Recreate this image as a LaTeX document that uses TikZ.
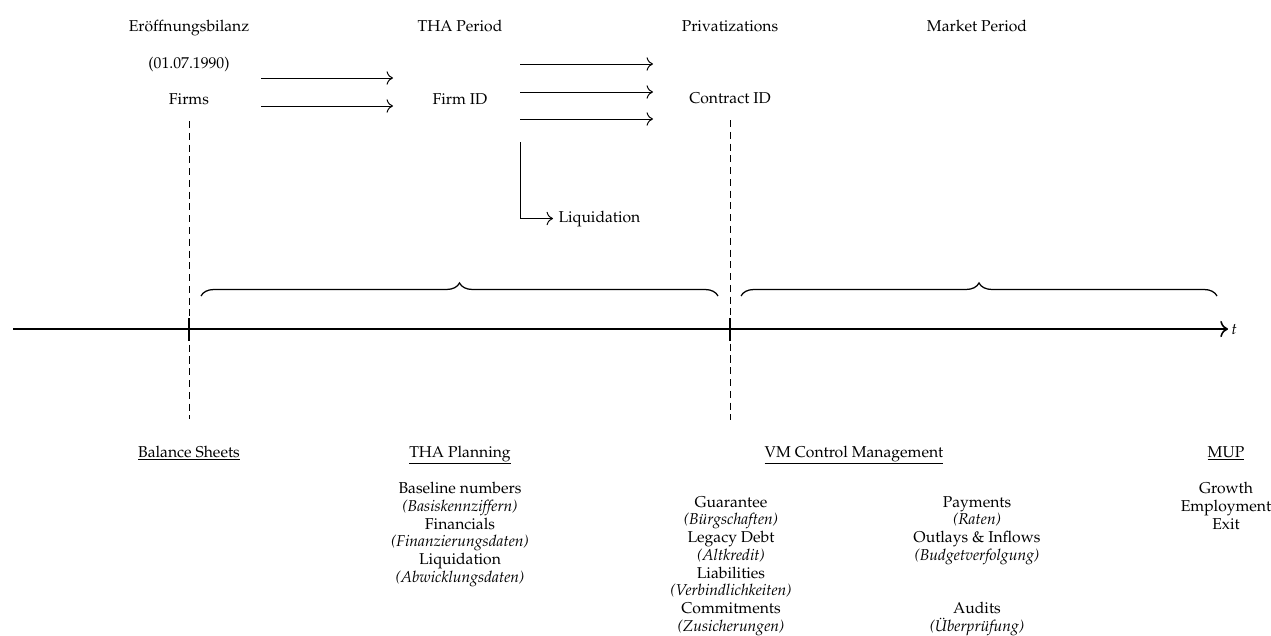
\documentclass[tikz,border=0pt]{standalone}
\usepackage[T1]{fontenc}
\usepackage{mathpazo}
\usetikzlibrary{decorations.pathreplacing,arrows.meta}
\begin{document}
\begin{tikzpicture}[x=0.637pt,y=-0.637pt,
  lbl/.style={inner sep=0pt,anchor=base},
  hdr/.style={inner sep=0pt,anchor=base},
  list/.style={inner sep=0pt,anchor=north,align=center,font=\fontsize{10}{11.3}\selectfont},
  flow/.style={semithick,-{Computer Modern Rightarrow[scale=1.4]}},
  guide/.style={dash pattern=on 4.5pt off 3pt},
  axis/.style={line width=1pt,-{Computer Modern Rightarrow[scale=1.3]}},
  tickmark/.style={line width=1.3pt},
  brc/.style={thick,decorate,decoration={brace,amplitude=8.3pt}}]
\useasboundingbox (0,0) rectangle (1271,635);

% top labels
\node[lbl] (eb) at (189,31) {Er\"offnungsbilanz};
\node[lbl] (date) at (189,68) {(01.07.1990)};
\node[lbl] (firms) at (189,104) {Firms};
\node[lbl] (tha) at (460,31) {THA Period};
\node[lbl] (firmid) at (460,104) {Firm ID};
\node[lbl] (priv) at (730,31) {Privatizations};
\node[lbl] (contract) at (730,103) {Contract ID};
\node[lbl] (market) at (977,31) {Market Period};
\node[anchor=base west] (liq) at (553,222) {Liquidation};

% flow arrows
\coordinate (a1s) at (261,78);  \coordinate (a1e) at (393,78);
\coordinate (a2s) at (261,106); \coordinate (a2e) at (393,106);
\draw[flow] (a1s) -- (a1e);
\draw[flow] (a2s) -- (a2e);
\coordinate (b1s) at (520,64);  \coordinate (b1e) at (653,64);
\coordinate (b2s) at (520,92);  \coordinate (b2e) at (653,92);
\coordinate (b3s) at (520,119); \coordinate (b3e) at (653,119);
\draw[flow] (b1s) -- (b1e);
\draw[flow] (b2s) -- (b2e);
\draw[flow] (b3s) -- (b3e);
\coordinate (ls) at (520,142);
\draw[flow] (ls) |- (liq.west);

% guides
\coordinate (g1t) at (189,121); \coordinate (g1b) at (189,419);
\coordinate (g2t) at (730,120); \coordinate (g2b) at (730,420);
\draw[guide] (g1t) -- (g1b);
\draw[guide] (g2t) -- (g2b);

% axis
\coordinate (ax0) at (13,329);
\coordinate (ax1) at (1228,329);
\draw[axis] (ax0) -- (ax1);
\node[anchor=west,inner sep=2pt] (tlab) at (ax1) {$t$};
\coordinate (k1t) at (189,318); \coordinate (k1b) at (189,341);
\coordinate (k2t) at (730,318); \coordinate (k2b) at (730,341);
\draw[tickmark] (k1t) -- (k1b);
\draw[tickmark] (k2t) -- (k2b);

% braces
\coordinate (br1s) at (201,296); \coordinate (br1e) at (718,296);
\coordinate (br2s) at (741,296); \coordinate (br2e) at (1217,296);
\draw[brc] (br1s) -- (br1e);
\draw[brc] (br2s) -- (br2e);

% bottom headers
\node[hdr] (bs) at (189,457) {\underline{Balance Sheets}};
\node[hdr] (thap) at (460,457) {\underline{THA Planning}};
\node[hdr] (vm) at (854,457) {\underline{VM Control Management}};
\node[hdr] (mup) at (1226,457) {\underline{MUP}};

% lists
\node[list] (thalist) at (460,482) {Baseline numbers\\ \textit{(Basiskennziffern)}\\ Financials\\ \textit{(Finanzierungsdaten)}\\ Liquidation\\ \textit{(Abwicklungsdaten)}};
\node[list] (vmleft) at (731,496) {Guarantee\\ \textit{(B\"urgschaften)}\\ Legacy Debt\\ \textit{(Altkredit)}\\ Liabilities\\ \textit{(Verbindlichkeiten)}\\ Commitments\\ \textit{(Zusicherungen)}};
\node[list] (vmright) at (977,496) {Payments\\ \textit{(Raten)}\\ Outlays \& Inflows\\ \textit{(Budgetverfolgung)}\\[22.6pt] Audits\\ \textit{(\"Uberpr\"ufung)}};
\node[list] (muplist) at (1226,482) {Growth\\ Employment\\ Exit};
\end{tikzpicture}
\end{document}
